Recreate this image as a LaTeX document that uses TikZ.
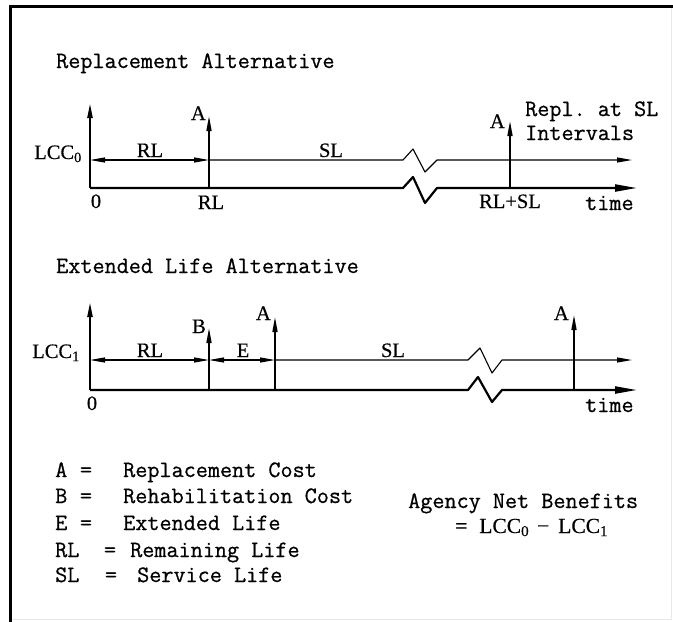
\documentclass[tikz,border=0pt]{standalone}
\usepackage{fontspec}
\setmainfont{Liberation Serif}[FakeBold=0.4]
\setmonofont{Latin Modern Mono}[FakeBold=0.7]
\usetikzlibrary{arrows.meta}
\tikzset{
  ah/.tip={Triangle[length=15pt,width=5pt]},
  axah/.tip={Triangle[length=22pt,width=7pt]},
  tw/.style={font=\fontsize{23.5}{26}\selectfont\ttfamily, inner sep=0pt},
  lab/.style={font=\fontsize{20.5}{24}\selectfont, inner sep=0pt},
  axisline/.style={line width=2.2pt, line join=round},
  lccline/.style={line width=1.1pt, line join=round},
  costarrow/.style={line width=1.5pt, -ah},
  frameline/.style={line width=3pt},
}
\begin{document}
\begin{tikzpicture}[x=1pt,y=-1pt]
\useasboundingbox (0,0) rectangle (673,622);
% frame
\coordinate (fbl) at (10,622);
\coordinate (ftl) at (10,6);
\coordinate (ftr) at (673,6);
\coordinate (frt) at (671,6);
\coordinate (frb) at (671,619);
\coordinate (flb) at (11,619);
\draw[gray!18, line width=1pt] (frt) -- (frb) -- (flb);
\draw[frameline] (fbl) -- (ftl) -- (ftr);

% ---------- Replacement Alternative ----------
\node[tw, anchor=base west] (title0) at (56,68) {Replacement Alternative};
\coordinate (O0) at (90,188);
\coordinate (Y0) at (90,103);
\coordinate (X0) at (637,188);
\draw[axisline, -ah] (O0) -- (Y0);
\draw[axisline, -axah] (O0) -- (403,188) -- (413,177) -- (425,203) -- (437,188) -- (X0);
\coordinate (L0) at (90,160);
\coordinate (R0) at (209,160);
\coordinate (E0) at (632,160);
\draw[lccline, ah-ah] (L0) -- (R0);
\draw[lccline, -ah] (R0) -- (403,160) -- (413,149) -- (425,172) -- (437,160) -- (E0);
\coordinate (a1b) at (209,188);
\coordinate (a1t) at (209,116);
\coordinate (a2b) at (510,188);
\coordinate (a2t) at (510,121);
\draw[costarrow] (a1b) -- (a1t);
\draw[costarrow] (a2b) -- (a2t);
\node[lab, anchor=base east] (lcc0) at (82,159) {LCC\textsubscript{0}};
\node[lab, anchor=base] (rl0) at (150,157) {RL};
\node[lab, anchor=base] (sl0) at (331,157) {SL};
\node[lab, anchor=base east] (a1) at (206,120) {A};
\node[lab, anchor=base east] (a2) at (505,128) {A};
\node[tw, anchor=base west] (repl) at (525,116) {Repl. at SL};
\node[tw, anchor=base west] (intv) at (525,140) {Intervals};
\node[lab, anchor=base] (zero0) at (96,208) {0};
\node[lab, anchor=base] (rlx) at (211,209) {RL};
\node[lab, anchor=base] (rlsl) at (510,208) {RL+SL};
\node[tw, anchor=base west] (time0) at (585,210) {time};

% ---------- Extended Life Alternative ----------
\node[tw, anchor=base west] (title1) at (56,273) {Extended Life Alternative};
\coordinate (O1) at (90,390);
\coordinate (Y1) at (90,302);
\coordinate (X1) at (637,390);
\draw[axisline, -ah] (O1) -- (Y1);
\draw[axisline, -axah] (O1) -- (468,390) -- (478,377) -- (492,402) -- (502,390) -- (X1);
\coordinate (L1) at (90,360);
\coordinate (R1) at (209,360);
\coordinate (F1) at (275,360);
\coordinate (E1) at (632,360);
\draw[lccline, ah-ah] (L1) -- (R1);
\draw[lccline, ah-ah] (R1) -- (F1);
\draw[lccline, -ah] (F1) -- (468,360) -- (480,348) -- (492,373) -- (502,360) -- (E1);
\coordinate (bb) at (209,390);
\coordinate (bt) at (209,328);
\coordinate (a3b) at (275,390);
\coordinate (a3t) at (275,317);
\coordinate (a4b) at (574,390);
\coordinate (a4t) at (574,315);
\draw[costarrow] (bb) -- (bt);
\draw[costarrow] (a3b) -- (a3t);
\draw[costarrow] (a4b) -- (a4t);
\node[lab, anchor=base east] (lcc1) at (80,358) {LCC\textsubscript{1}};
\node[lab, anchor=base] (rl1) at (150,357) {RL};
\node[lab, anchor=base] (e1) at (243,357) {E};
\node[lab, anchor=base] (sl1) at (393,357) {SL};
\node[lab, anchor=base east] (b1) at (206,333) {B};
\node[lab, anchor=base east] (a3) at (271,320) {A};
\node[lab, anchor=base east] (a4) at (569,320) {A};
\node[lab, anchor=base] (zero1) at (92,410) {0};
\node[tw, anchor=base west] (time1) at (585,412) {time};

% ---------- Legend ----------
\node[tw, anchor=base west] (ka) at (55,477) {A};
\node[tw, anchor=base] (qa) at (86,477) {=};
\node[tw, anchor=base west] (va) at (123,477) {Replacement Cost};
\node[tw, anchor=base west] (kb) at (55,503) {B};
\node[tw, anchor=base] (qb) at (86,503) {=};
\node[tw, anchor=base west] (vb) at (123,503) {Rehabilitation Cost};
\node[tw, anchor=base west] (ke) at (55,530) {E};
\node[tw, anchor=base] (qe) at (86,530) {=};
\node[tw, anchor=base west] (ve) at (123,530) {Extended Life};
\node[tw, anchor=base west] (kr) at (55,557) {RL};
\node[tw, anchor=base] (qr) at (110,557) {=};
\node[tw, anchor=base west] (vr) at (130,557) {Remaining Life};
\node[tw, anchor=base west] (ks) at (55,582) {SL};
\node[tw, anchor=base] (qs) at (111,582) {=};
\node[tw, anchor=base west] (vs) at (137,582) {Service Life};

\node[tw, anchor=base west] (anb) at (408,508) {Agency Net Benefits};
\node[lab, font=\fontsize{21.5}{24}\selectfont, anchor=base west] (diff) at (455,533) {=\hspace{12pt}LCC\textsubscript{0}\hspace{8pt}−\hspace{9pt}LCC\textsubscript{1}};
\end{tikzpicture}
\end{document}
